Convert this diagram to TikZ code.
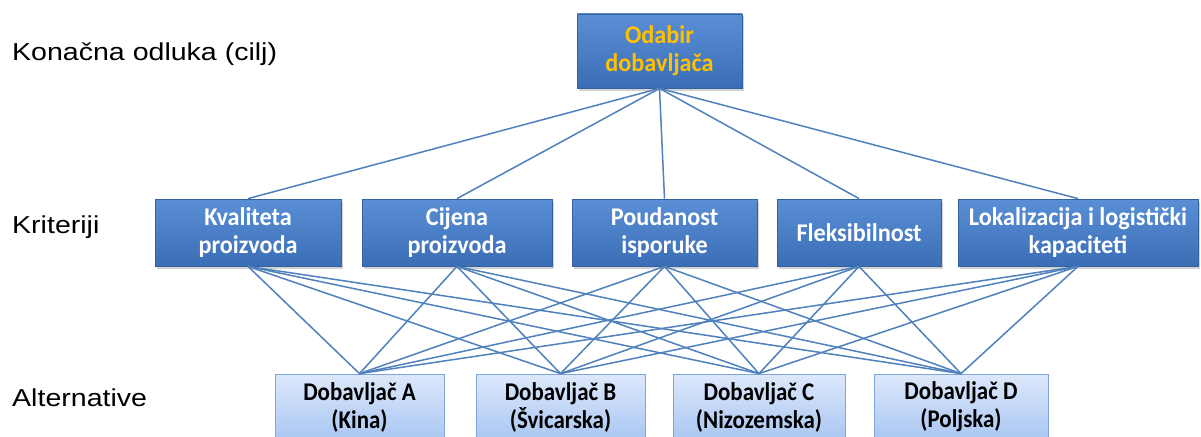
\documentclass[tikz,border=0pt]{standalone}
\usepackage{fontspec}
\setmainfont{Carlito}
\newfontfamily\labfont[FakeStretch=1.165]{Liberation Sans}
\newfontfamily\boxfont[FakeStretch=0.9]{Carlito}
\newfontfamily\critfont[FakeStretch=0.95]{Carlito}
\usetikzlibrary{shadows}
\definecolor{linec}{HTML}{4F81BD}
\definecolor{critA}{HTML}{5A8FD6}
\definecolor{critB}{HTML}{3A6DB5}
\definecolor{critD}{HTML}{34629F}
\definecolor{altA}{HTML}{DDE8FB}
\definecolor{altB}{HTML}{A9C6F2}
\definecolor{altD}{HTML}{7EA6D8}
\definecolor{gold}{HTML}{FFC000}
\begin{document}
\begin{tikzpicture}[x=1pt,y=-1pt,
  conn/.style={draw=linec, line width=1.5pt},
  crit/.style={draw=critD, line width=0.8pt, top color=critA, bottom color=critB,
    drop shadow={shadow xshift=1.5pt, shadow yshift=-2.5pt, opacity=0.35},
    text=white, font=\critfont\bfseries\fontsize{25.5}{28}\selectfont, align=center,
    inner sep=0pt, minimum height=67pt},
  goal/.style={crit, text=gold, minimum height=74pt, minimum width=165pt},
  alt/.style={draw=altD, line width=0.8pt, top color=altA, bottom color=altB,
    text=black, font=\boxfont\bfseries\fontsize{25.5}{28}\selectfont, align=center,
    inner sep=0pt, minimum height=66pt},
  lab/.style={font=\labfont\fontsize{24.5}{28}\selectfont, text=black, inner sep=0pt, anchor=base west}]
\clip (0,0) rectangle (1201,436);
\fill[white] (0,0) rectangle (1201,436);

\node[goal] (top) at (659.5,51) {Odabir\\dobavljača};

\node[crit, minimum width=186pt] (k1) at (248,232.5) {Kvaliteta\\proizvoda};
\node[crit, minimum width=190pt] (k2) at (457,232.5) {Cijena\\proizvoda};
\node[crit, minimum width=185pt] (k3) at (664.5,232.5) {Poudanost\\isporuke};
\node[crit, minimum width=164pt] (k4) at (859,232.5) {Fleksibilnost};
\node[crit, minimum width=240pt] (k5) at (1078,232.5) {Lokalizacija i logistički\\kapaciteti};

\node[alt, minimum width=169pt] (a1) at (359.5,407) {Dobavljač A\\(Kina)};
\node[alt, minimum width=169pt] (a2) at (560.5,407) {Dobavljač B\\(Švicarska)};
\node[alt, minimum width=172pt] (a3) at (759,407) {Dobavljač C\\(Nizozemska)};
\node[alt, minimum width=174pt] (a4) at (961,407) {Dobavljač D\\(Poljska)};

\foreach \k in {k1,k2,k3,k4,k5} {
  \draw[conn] (top.south) -- (\k.north);
  \foreach \a in {a1,a2,a3,a4} {
    \draw[conn] (\k.south) -- (\a.north);
  }
}

\node[lab] (l1) at (12,60) {Konačna odluka (cilj)};
\node[lab] (l2) at (12,233) {Kriteriji};
\node[lab] (l3) at (12,406) {Alternative};
\end{tikzpicture}
\end{document}
